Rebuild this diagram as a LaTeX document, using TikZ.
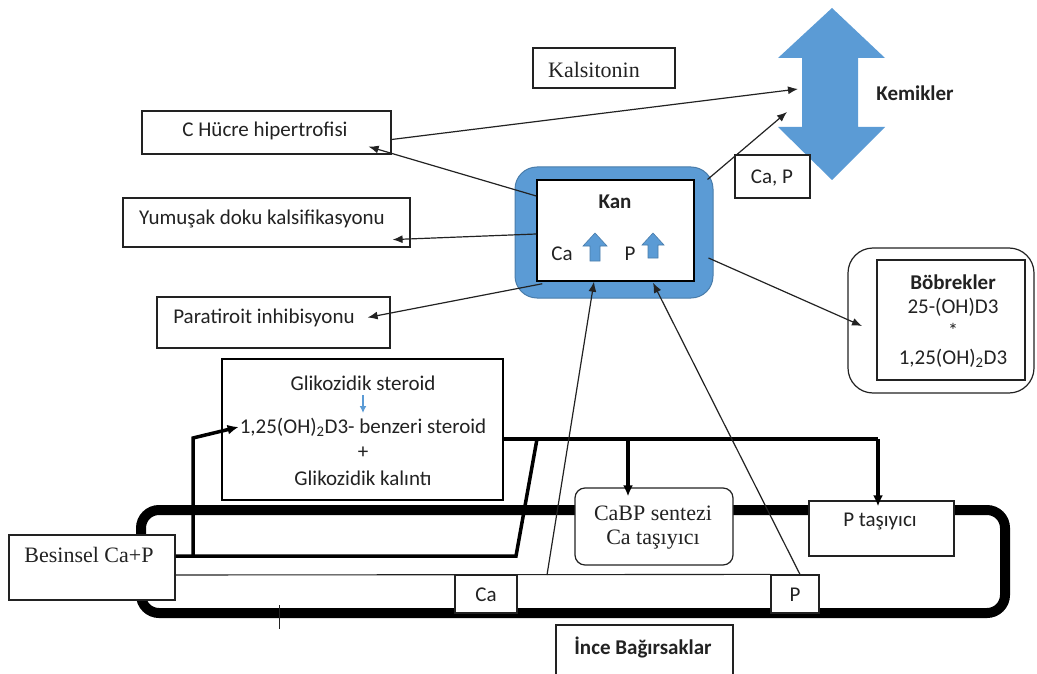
\documentclass[tikz,border=0pt]{standalone}
\usepackage{fontspec}
\setmainfont{Carlito}
\newfontfamily\seriff{Liberation Serif}
\usetikzlibrary{arrows.meta}
\definecolor{kblue}{HTML}{5B9BD5}
\definecolor{ink}{HTML}{222222}
\begin{document}
\begin{tikzpicture}[x=1pt,y=-1pt,
  box/.style={draw=ink, line width=1.2pt, fill=white, inner sep=0pt},
  txt/.style={font=\fontsize{21}{25}\selectfont, text=ink, inner sep=0pt},
  stxt/.style={font=\fontsize{22}{26}\selectfont\seriff, text=ink, inner sep=0pt},
  btxt/.style={font=\fontsize{21}{25}\selectfont\bfseries, text=ink, inner sep=0pt},
  conn/.style={draw=ink, line width=1.2pt, -{Latex[length=10pt,width=8pt]}},
  thickline/.style={draw=black, line width=3.5pt},
  thickarrow/.style={draw=black, line width=3.5pt, -{Latex[length=11pt,width=10pt]}},
  bluearrow/.style={fill=kblue, draw=kblue!80!black, line width=0.6pt}
]
\useasboundingbox (0,0) rectangle (1037,674);

% ---- Intestine ----
\draw[line width=10pt, rounded corners=18pt] (141,510) rectangle (1005,613);

% ---- Top boxes ----
\node[box, minimum width=142pt, minimum height=40pt] (kals) at (604,68) {};
\node[stxt] (kalst) at (594,70) {Kalsitonin};

\node[box, minimum width=249pt, minimum height=43pt] (chucre) at (266.5,132.5) {};
\node[txt] (chucret) at (265,131) {C Hücre hipertrofisi};

\node[box, minimum width=287pt, minimum height=49pt] (yumusak) at (266.5,222.5) {};
\node[txt] (yumusakt) at (262,219) {Yumuşak doku kalsifikasyonu};

\node[box, minimum width=233pt, minimum height=51pt] (para) at (273.5,322.5) {};
\node[txt] (parat) at (264,318) {Paratiroit inhibisyonu};

% ---- Kemikler ----
\fill[kblue] (832,8) -- (885,58) -- (858,58) -- (858,127) -- (885,127) -- (832,180)
  -- (778,127) -- (802,127) -- (802,58) -- (778,58) -- cycle;
\node[btxt] (kemt) at (915,93) {Kemikler};
\coordinate (kemA) at (798,89);
\coordinate (kemB) at (787,112);

\node[box, minimum width=75pt, minimum height=43pt] (cap) at (772.5,176.5) {};
\node[txt] (capt) at (772,178) {Ca, P};

% ---- Kan ----
\node[fill=kblue, draw=kblue!80!black, line width=1pt, rounded corners=22pt,
      minimum width=198pt, minimum height=131pt, inner sep=0pt] (kanout) at (614,232.5) {};
\node[draw=black, line width=1.5pt, fill=white, minimum width=157pt, minimum height=101pt,
      inner sep=0pt] (kan) at (615.5,230.5) {};
\node[btxt] (kant) at (615,202) {Kan};
\node[txt] (kanca) at (562,254) {Ca};
\node[txt] (kanp) at (630,254) {P};
\filldraw[bluearrow] (595,233) -- (607,246) -- (600,246) -- (600,261) -- (590,261) -- (590,246) -- (583,246) -- cycle;
\filldraw[bluearrow] (653,233) -- (664,245) -- (658,245) -- (658,258) -- (648,258) -- (648,245) -- (642,245) -- cycle;

% ---- Bobrekler ----
\node[draw=ink, line width=1.2pt, rounded corners=25pt, minimum width=186pt, minimum height=145pt,
      inner sep=0pt] (bobout) at (941,320.5) {};
\node[box, minimum width=148pt, minimum height=120pt] (bob) at (951,320) {};
\node[btxt] (bob1) at (953,282) {Böbrekler};
\node[txt] (bob2) at (953,307) {25-(OH)D3};
\node[txt, font=\fontsize{20}{22}\selectfont] (bob3) at (953,330) {*};
\node[txt] (bob4) at (953,358) {1,25(OH)\textsubscript{2}D3};
\coordinate (bobin) at (862,326);

% ---- Connectors from Kan ----
\draw[conn] ([yshift=-7pt]chucre.east) -- (kemA);
\draw[conn] ([yshift=34.5pt]kan.west) -- ([xshift=-23pt,yshift=8pt]chucre.south east);
\draw[conn] ([yshift=-3.5pt]kan.west) -- ([xshift=-18pt,yshift=8pt]yumusak.south east);
\draw[conn] ([xshift=6pt,yshift=-2pt]kan.south west) -- ([xshift=-23pt,yshift=5pt]para.east);
\draw[conn] ([xshift=-6pt,yshift=-13pt]kanout.north east) -- (kemB);
\draw[conn] ([xshift=-5pt,yshift=-25.5pt]kanout.east) -- (bobin);

% ---- Glikozidik box ----
\node[draw=black, line width=2.5pt, fill=white, minimum width=281pt, minimum height=141pt,
      inner sep=0pt] (glyco) at (362.5,429.5) {};
\node[txt] (g1) at (363,383) {Glikozidik steroid};
\coordinate (ga) at (363,395);
\coordinate (gb) at (363,413);
\draw[draw=kblue, line width=1.4pt, -{Latex[length=7pt,width=7pt]}] (ga) -- (gb);
\node[txt] (g2) at (363,427) {1,25(OH)\textsubscript{2}D3- benzeri steroid};
\node[txt] (g3) at (363,453) {+};
\node[txt] (g4) at (363,478) {Glikozidik kalıntı};

% ---- Bottom boxes ----
\node[box, minimum width=166pt, minimum height=65pt] (besinsel) at (92,567.5) {};
\node[stxt] (besinselt) at (89,555) {Besinsel Ca+P};

\node[box, minimum width=62pt, minimum height=38pt] (cabox) at (486,594) {};
\node[txt] (caboxt) at (486,595) {Ca};
\node[box, minimum width=48pt, minimum height=38pt] (pbox) at (795,594) {};
\node[txt] (pboxt) at (795,595) {P};

% thin line
\draw[draw=ink, line width=1.1pt] ([yshift=-7.5pt]besinsel.east) -- (pbox.north west);
\draw[draw=ink, line width=0.8pt] (279,605) -- (279,629);

\node[box, rounded corners=10pt, minimum width=158pt, minimum height=77pt] (cabp) at (654,526.5) {};
\node[stxt] (cabp1) at (653,513) {CaBP sentezi};
\node[stxt] (cabp2) at (653,540) {Ca taşıyıcı};

\node[box, minimum width=145pt, minimum height=55pt] (ptas) at (881.5,528.5) {};
\node[txt] (ptast) at (880,522) {P taşıyıcı};

% ---- Thick pathways ----
\coordinate (j1) at (193,556);
\coordinate (a1) at (193,438);
\coordinate (j2) at (516,556);
\coordinate (j5) at (537,439);
\coordinate (j3) at (628,439);
\coordinate (j4) at (878,439);
\draw[thickline] ([yshift=11.5pt]besinsel.east) -- (j2) -- (j5);
\draw[thickarrow] (j1) -- (a1) -- ([xshift=-1pt]g2.west);
\draw[thickline] ([yshift=-9.5pt]glyco.east) -- (j4);
\draw[thickarrow] (j3) -- ([xshift=-26pt,yshift=-9pt]cabp.north);
\draw[thickarrow] (j4) -- ([xshift=-3.5pt,yshift=-6pt]ptas.north);

% ---- Arrows into Kan from intestine ----
\coordinate (caup) at (547,575);
\draw[conn] (caup) -- ([xshift=-21.5pt]kan.south);
\draw[conn] ([xshift=5pt]pbox.north) -- ([xshift=37.5pt,yshift=-1pt]kan.south);

% ---- Ince Bagirsaklar ----
\begin{scope}
\clip (0,0) rectangle (1037,674);
\node[box, minimum width=177pt, minimum height=70pt] (ince) at (644.5,660) {};
\end{scope}
\node[btxt] (incet) at (643,647) {İnce Bağırsaklar};
\end{tikzpicture}
\end{document}
